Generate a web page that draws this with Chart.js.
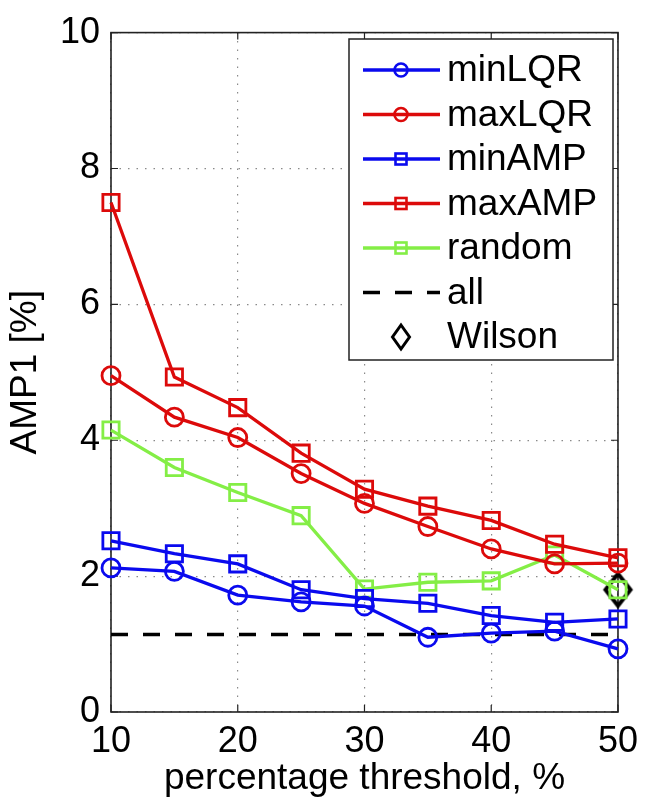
<!DOCTYPE html>
<html>
<head>
<meta charset="utf-8">
<script src="https://cdn.jsdelivr.net/npm/chart.js@4/dist/chart.umd.min.js"></script>
<style>
  html, body { margin: 0; padding: 0; background: #fff; }
  #wrap { width: 646px; height: 802px; position: relative; }
</style>
</head>
<body>
<div id="wrap"><canvas id="c" width="646" height="802"></canvas></div>
<script>
// percentage threshold (x) and AMP1 [%] per selection rule
const thresholds = [10, 15, 20, 25, 30, 35, 40, 45, 50];
const minLQR = [2.12, 2.07, 1.72, 1.62, 1.56, 1.10, 1.16, 1.19, 0.93];
const maxLQR = [4.95, 4.34, 4.04, 3.51, 3.07, 2.73, 2.40, 2.18, 2.19];
const minAMP = [2.52, 2.33, 2.18, 1.80, 1.67, 1.60, 1.42, 1.32, 1.37];
const maxAMP = [7.50, 4.93, 4.48, 3.81, 3.28, 3.03, 2.82, 2.47, 2.27];
const randomSel = [4.15, 3.60, 3.23, 2.89, 1.81, 1.91, 1.93, 2.31, 1.80];
const allLevel = 1.14;
const allRange = [10, 50];
const wilsonPoint = [50, 1.80];
const xTicks = [10, 20, 30, 40, 50];
const yTicks = [0, 2, 4, 6, 8, 10];

const BLUE = '#0a0aee';
const RED = '#dc0a0a';
const GREEN = '#84ee46';
const FONT = '"Liberation Sans", Arial, Helvetica, sans-serif';

const toXY = (xs, ys) => xs.map((x, i) => ({ x: x, y: ys[i] }));

// tall hollow diamond used for the Wilson marker
function diamondCanvas(hw, hh, lw) {
  const c = document.createElement('canvas');
  c.width = Math.ceil(2 * hw + 2 * lw);
  c.height = Math.ceil(2 * hh + 2 * lw);
  const g = c.getContext('2d');
  const cx = c.width / 2, cy = c.height / 2;
  g.strokeStyle = '#000';
  g.lineWidth = lw;
  g.lineJoin = 'miter';
  g.beginPath();
  g.moveTo(cx, cy - hh);
  g.lineTo(cx + hw, cy);
  g.lineTo(cx, cy + hh);
  g.lineTo(cx - hw, cy);
  g.closePath();
  g.stroke();
  return c;
}

function series(label, ys, color, style) {
  return {
    label: label,
    data: toXY(thresholds, ys),
    borderColor: color,
    backgroundColor: 'rgba(0,0,0,0)',
    borderWidth: 3.3,
    pointStyle: style,
    pointRadius: style === 'circle' ? 9 : 11.5,
    pointBorderWidth: 2.8,
    pointBorderColor: color,
    pointBackgroundColor: 'rgba(0,0,0,0)',
    tension: 0,
    clip: false
  };
}

const datasets = [
  series('minLQR', minLQR, BLUE, 'circle'),
  series('maxLQR', maxLQR, RED, 'circle'),
  series('minAMP', minAMP, BLUE, 'rect'),
  series('maxAMP', maxAMP, RED, 'rect'),
  series('random', randomSel, GREEN, 'rect'),
  {
    label: 'all',
    data: allRange.map(x => ({ x: x, y: allLevel })),
    borderColor: '#000',
    borderWidth: 3.5,
    borderDash: [17, 15],
    pointRadius: 0,
    clip: false
  },
  {
    label: 'Wilson',
    data: [{ x: wilsonPoint[0], y: wilsonPoint[1] }],
    showLine: false,
    pointStyle: diamondCanvas(12.5, 16, 4),
    pointRadius: 14,
    borderColor: '#000',
    clip: false
  }
];

// frame with inward tick marks on all four sides
const framePlugin = {
  id: 'frame',
  beforeDatasetsDraw(chart) {
    const { ctx, chartArea: a, scales } = chart;
    ctx.save();
    ctx.strokeStyle = '#222';
    ctx.lineWidth = 1.6;
    ctx.strokeRect(a.left, a.top, a.right - a.left, a.bottom - a.top);
    ctx.lineWidth = 1.2;
    ctx.beginPath();
    const tl = 7;
    yTicks.forEach(v => {
      const y = scales.y.getPixelForValue(v);
      ctx.moveTo(a.left, y); ctx.lineTo(a.left + tl, y);
      ctx.moveTo(a.right, y); ctx.lineTo(a.right - tl, y);
    });
    xTicks.forEach(v => {
      const x = scales.x.getPixelForValue(v);
      ctx.moveTo(x, a.bottom); ctx.lineTo(x, a.bottom - tl);
      ctx.moveTo(x, a.top); ctx.lineTo(x, a.top + tl);
    });
    ctx.stroke();
    ctx.restore();
  }
};

// boxed legend in the upper right of the plot
const boxLegend = {
  id: 'boxLegend',
  afterDraw(chart) {
    const { ctx } = chart;
    const bx = 349, by = 39, bw = 264, bh = 321;
    ctx.save();
    ctx.fillStyle = '#fff';
    ctx.fillRect(bx, by, bw, bh);
    ctx.strokeStyle = '#222';
    ctx.lineWidth = 1.5;
    ctx.strokeRect(bx, by, bw, bh);
    const x0 = 363, x1 = 440, mx = 401, tx = 447;
    const rowY0 = 70, rowStep = 44.5;
    chart.data.datasets.forEach((ds, i) => {
      const y = rowY0 + i * rowStep;
      ctx.strokeStyle = ds.borderColor;
      if (ds.label !== 'Wilson') {
        ctx.lineWidth = ds.borderWidth;
        ctx.setLineDash(ds.borderDash || []);
        ctx.beginPath();
        ctx.moveTo(x0, y); ctx.lineTo(x1, y);
        ctx.stroke();
        ctx.setLineDash([]);
        ctx.lineWidth = 2.6;
        if (ds.pointStyle === 'circle') {
          ctx.beginPath();
          ctx.arc(mx, y, 6.5, 0, Math.PI * 2);
          ctx.stroke();
        } else if (ds.pointStyle === 'rect') {
          ctx.strokeRect(mx - 5.5, y - 5.5, 11, 11);
        }
      } else {
        ctx.lineWidth = 3;
        ctx.strokeStyle = '#000';
        ctx.beginPath();
        ctx.moveTo(mx, y - 12);
        ctx.lineTo(mx + 8.5, y);
        ctx.lineTo(mx, y + 12);
        ctx.lineTo(mx - 8.5, y);
        ctx.closePath();
        ctx.stroke();
      }
      ctx.fillStyle = '#000';
      ctx.font = '37px ' + FONT;
      ctx.textBaseline = 'middle';
      ctx.textAlign = 'left';
      ctx.fillText(ds.label, tx, y + 1);
    });
    ctx.restore();
  }
};

new Chart(document.getElementById('c'), {
  type: 'line',
  data: { datasets: datasets },
  options: {
    responsive: false,
    devicePixelRatio: 1,
    animation: false,
    layout: { padding: { top: 25, right: 20, left: 0, bottom: 0 } },
    plugins: { legend: { display: false }, tooltip: { enabled: false } },
    scales: {
      x: {
        type: 'linear',
        min: 10, max: 50,
        afterBuildTicks(scale) { scale.ticks = xTicks.map(v => ({ value: v })); },
        afterFit(scale) { scale.height = 90; },
        ticks: { font: { family: FONT, size: 36 }, color: '#000', padding: 8, maxRotation: 0 },
        grid: { color: '#8a8a8a', lineWidth: 1.2, drawTicks: false },
        border: { display: false, dash: [1.5, 7] },
        title: {
          display: true,
          text: 'percentage threshold, %',
          font: { family: FONT, size: 37 },
          color: '#000',
          padding: { top: 0, bottom: 1 }
        }
      },
      y: {
        type: 'linear',
        min: 0, max: 10,
        afterBuildTicks(scale) { scale.ticks = yTicks.map(v => ({ value: v })); },
        afterFit(scale) { scale.width = 111; },
        ticks: { font: { family: FONT, size: 36 }, color: '#000', padding: 11 },
        grid: { color: '#8a8a8a', lineWidth: 1.2, drawTicks: false },
        border: { display: false, dash: [1.5, 7] },
        title: {
          display: true,
          text: 'AMP1 [%]',
          font: { family: FONT, size: 37 },
          color: '#000',
          padding: { top: 4, bottom: 0 }
        }
      }
    }
  },
  plugins: [framePlugin, boxLegend]
});
</script>
</body>
</html>
